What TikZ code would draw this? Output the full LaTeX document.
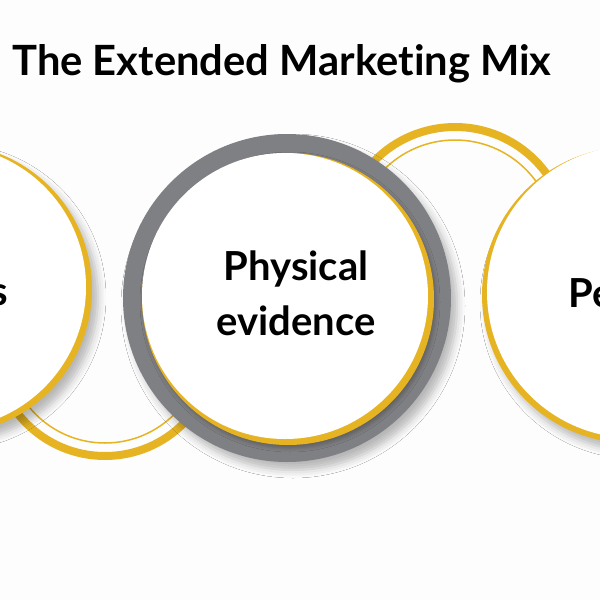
\documentclass[tikz,border=0pt]{standalone}
\usepackage{fontspec}
\setmainfont{Lato}[Ligatures={NoCommon,NoRare}]
\usetikzlibrary{shadows.blur}
\definecolor{gold}{HTML}{E6B422}
\definecolor{ringgray}{HTML}{7F8083}
\definecolor{bg}{HTML}{FDFDFD}
\begin{document}
\begin{tikzpicture}[x=1pt,y=-1pt,
  disc/.style={circle, inner sep=0pt, draw=none},
  sh/.style={blur shadow={shadow xshift=6pt, shadow yshift=-8pt, shadow blur radius=8pt, shadow opacity=28}},
  shsmall/.style={blur shadow={shadow xshift=2pt, shadow yshift=-3pt, shadow blur radius=4pt, shadow opacity=25}},
  lbl/.style={font=\fontsize{40}{55}\selectfont\bfseries, align=center, text=black, inner sep=0pt},
  thickarc/.style={draw=gold, line width=8pt},
  thinarc/.style={draw=gold, line width=1.5pt}]
\fill[bg] (0,0) rectangle (600,600);
\useasboundingbox (0,0) rectangle (600,600);
\node[lbl, font=\fontsize{41.7}{50}\selectfont\bfseries, anchor=base] (title) at (282,75) {The Extended Marketing Mix};
% decorative arcs
\coordinate (lc) at (105,345);
\coordinate (uc) at (455,240);
\draw[thickarc] (lc) ++(0:111) arc[start angle=0, end angle=180, radius=111];
\draw[thinarc] (lc) ++(0:98) arc[start angle=0, end angle=180, radius=98];
\draw[thickarc] (uc) ++(180:113) arc[start angle=180, end angle=360, radius=113];
\draw[thinarc] (uc) ++(180:100) arc[start angle=180, end angle=360, radius=100];
% left circle
\node[disc, fill=gold, minimum size=290pt, sh] (lefty) at (-53,289) {};
\node[disc, fill=white, minimum size=284pt] (leftw) at (-56,287) {};
\node[lbl, anchor=base east] (process) at (8,305) {Process};
% middle circle
\node[disc, fill=ringgray, minimum size=328pt, sh] (midring) at (287,298) {};
\node[disc, fill=gold, minimum size=292pt, shsmall] (midy) at (288,299) {};
\node[disc, fill=white, minimum size=286pt] (midw) at (285,296) {};
\node[lbl] (phys) at (296,293) {Physical\\evidence};
% right circle
\node[disc, fill=gold, minimum size=296pt, sh] (righty) at (630,295) {};
\node[disc, fill=white, minimum size=292pt] (rightw) at (633,292) {};
\node[lbl, anchor=base] (people) at (630,307) {People};
\end{tikzpicture}
\end{document}
